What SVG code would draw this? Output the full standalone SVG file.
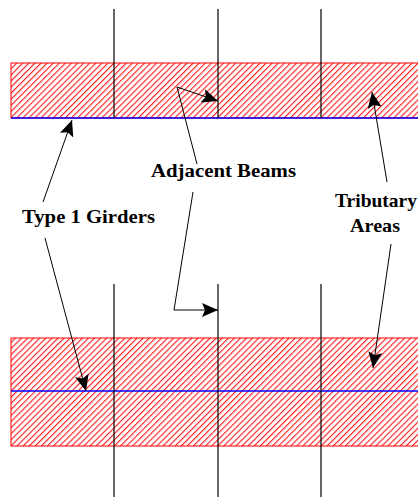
<svg xmlns="http://www.w3.org/2000/svg" width="418" height="497" viewBox="0 0 418 497">
<style>
.area{fill:url(#hatch);stroke:#ff0000;stroke-width:1}
.girder{stroke:#0000ff;stroke-width:1.5}
.beam{stroke:#000;stroke-width:1.2}
.lead{fill:none;stroke:#000;stroke-width:1}
.lbl{font-family:"Liberation Serif","Times New Roman",serif;font-weight:bold;font-size:19px;fill:#000}
</style>
<defs>
<pattern id="hatch" patternUnits="userSpaceOnUse" width="4.3" height="10" patternTransform="rotate(45)">
<rect width="4.3" height="10" fill="#ffffff"/>
<line x1="0.6" y1="0" x2="0.6" y2="10" stroke="#ff0000" stroke-width="1"/>
</pattern>
<marker id="ah" markerUnits="userSpaceOnUse" markerWidth="17" markerHeight="14" refX="16" refY="7" orient="auto">
<path d="M0,0 L16,7 L0,14 L3,7 Z" fill="#000"/>
</marker>
</defs>
<g id="top-girder">
<rect class="area" x="11" y="63" width="410" height="55"/>
<line class="girder" x1="11" y1="118" x2="418" y2="118"/>
</g>
<g id="bottom-girder">
<rect class="area" x="11" y="338" width="410" height="108"/>
<line class="girder" x1="11" y1="391" x2="418" y2="391"/>
</g>
<g id="beams">
<line class="beam" x1="114" y1="9" x2="114" y2="118"/>
<line class="beam" x1="218" y1="9" x2="218" y2="118"/>
<line class="beam" x1="321" y1="9" x2="321" y2="118"/>
<line class="beam" x1="114" y1="284" x2="114" y2="497"/>
<line class="beam" x1="218" y1="284" x2="218" y2="497"/>
<line class="beam" x1="321" y1="284" x2="321" y2="497"/>
</g>
<g id="label-girders"><text class="lbl" x="22" y="223" textLength="133" lengthAdjust="spacingAndGlyphs">Type 1 Girders</text></g>
<g id="label-beams"><text class="lbl" x="151" y="177" textLength="145" lengthAdjust="spacingAndGlyphs">Adjacent Beams</text></g>
<g id="label-areas">
<text class="lbl" x="335" y="207" textLength="82" lengthAdjust="spacingAndGlyphs">Tributary</text>
<text class="lbl" x="350" y="232" textLength="50" lengthAdjust="spacingAndGlyphs">Areas</text>
</g>
<g id="connectors">
<path class="lead" d="M43,202 L72,120" marker-end="url(#ah)"/>
<path class="lead" d="M45,238 L86,391" marker-end="url(#ah)"/>
<path class="lead" d="M197,164 L177,87 L218,101" marker-end="url(#ah)"/>
<path class="lead" d="M193,192 L174,310 L218,310" marker-end="url(#ah)"/>
<path class="lead" d="M387,182 L372,92" marker-end="url(#ah)"/>
<path class="lead" d="M391,244 L373,368" marker-end="url(#ah)"/>
</g>
</svg>
